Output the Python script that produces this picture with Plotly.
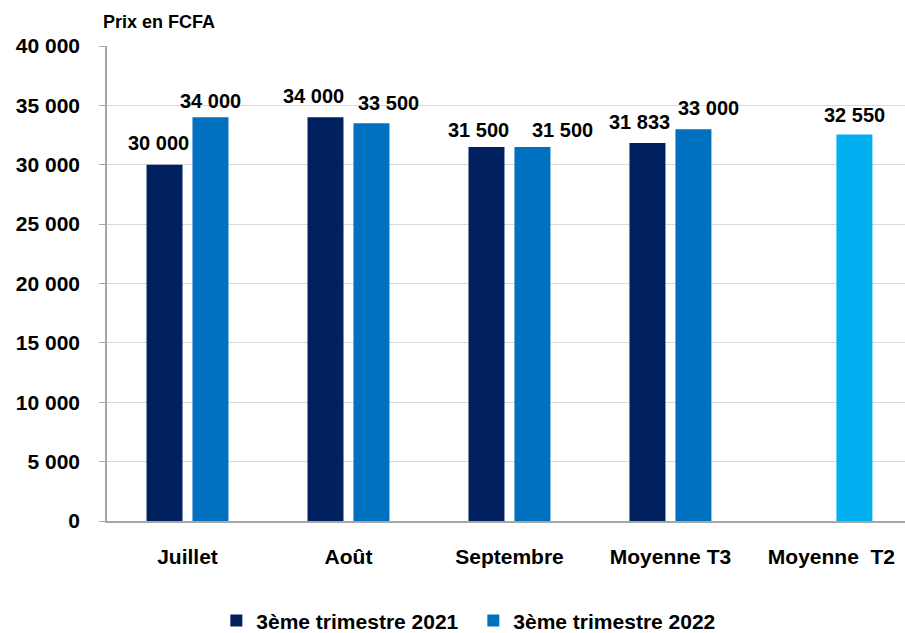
import plotly.graph_objects as go

categories = ["Juillet", "Août", "Septembre", "Moyenne T3", "Moyenne\u00a0\u00a0T2"]
series_2021 = [30000, 34000, 31500, 31833, None]
series_2022 = [34000, 33500, 31500, 33000, 32550]
name_2021 = "3ème trimestre 2021"
name_2022 = "3ème trimestre 2022"
y_ticks = [0, 5000, 10000, 15000, 20000, 25000, 30000, 35000, 40000]

# label placement nudges (pixels) - style only
dx_2021 = [-6.5, -12, -8, -8, 0]
dy_2021 = [15, 14, 10, 14, 12]
dx_2022 = [0, 17.5, 30, 15.5, 0]
dy_2022 = [9, 13, 10, 14, 12]

c2021 = "#002060"
c2022 = "#0070C0"
c_t2 = "#00B0F0"
colors_2022 = [c2022, c2022, c2022, c2022, c_t2]

FONT = "Liberation Sans"
BARGAP = 0.429

fig = go.Figure()
fig.add_trace(go.Bar(
    x=categories, y=series_2021, name=name_2021,
    marker=dict(color=c2021, line=dict(width=0)),
))
fig.add_trace(go.Bar(
    x=categories, y=series_2022, name=name_2022,
    marker=dict(color=colors_2022, line=dict(width=0)),
))

half = (1 - BARGAP) / 4
annotations = []
for series, sign, dxs, dys in [(series_2021, -1, dx_2021, dy_2021),
                                (series_2022, 1, dx_2022, dy_2022)]:
    for i, v in enumerate(series):
        if v is None:
            continue
        annotations.append(dict(
            x=i + sign * half, y=v, xref="x", yref="y",
            text="<b>" + f"{v:,}".replace(",", "\u00a0") + "</b>",
            showarrow=False, xanchor="center", yanchor="bottom",
            xshift=dxs[i], yshift=dys[i] - 6,
            font=dict(family=FONT, size=20, color="#000000"),
        ))
annotations.append(dict(text="<b>Prix en FCFA</b>", xref="paper", yref="paper",
                        x=-0.008, xanchor="left", y=1.0, yshift=24, yanchor="middle",
                        showarrow=False, font=dict(family=FONT, size=18, color="#000000")))

fig.update_layout(
    width=905, height=633,
    margin=dict(l=107, r=0, t=46, b=112, autoexpand=False),
    paper_bgcolor="white", plot_bgcolor="white",
    separators=", ",
    barmode="group", bargap=BARGAP, bargroupgap=0.217,
    font=dict(family=FONT, color="#000000"),
    showlegend=True,
    legend=dict(orientation="h", x=0.137, xanchor="left", y=-0.21, yanchor="middle",
                font=dict(family=FONT, size=21, color="#000000", weight="bold"),
                itemwidth=30, entrywidth=212, entrywidthmode="pixels",
                itemsizing="constant", traceorder="normal"),
    annotations=annotations,
)
fig.update_xaxes(
    range=[-0.5, 4.457], automargin=False,
    showline=True, linecolor="#a6a6a6", linewidth=1.5,
    showgrid=False, ticks="", ticklabelstandoff=16,
    tickfont=dict(family=FONT, size=21, color="#000000", weight="bold"),
)
fig.update_yaxes(
    range=[0, 40000], tickvals=y_ticks, tickformat=",", automargin=False,
    showline=True, linecolor="#a6a6a6", linewidth=1.5,
    showgrid=True, gridcolor="#d9d9d9", gridwidth=1,
    ticks="outside", ticklen=6, tickcolor="#a6a6a6", ticklabelstandoff=15,
    tickfont=dict(family=FONT, size=21, color="#000000", weight="bold"),
    zeroline=False,
)

fig.write_html("out.html", config={"displayModeBar": False},
               post_script="document.body.style.margin='0';")
